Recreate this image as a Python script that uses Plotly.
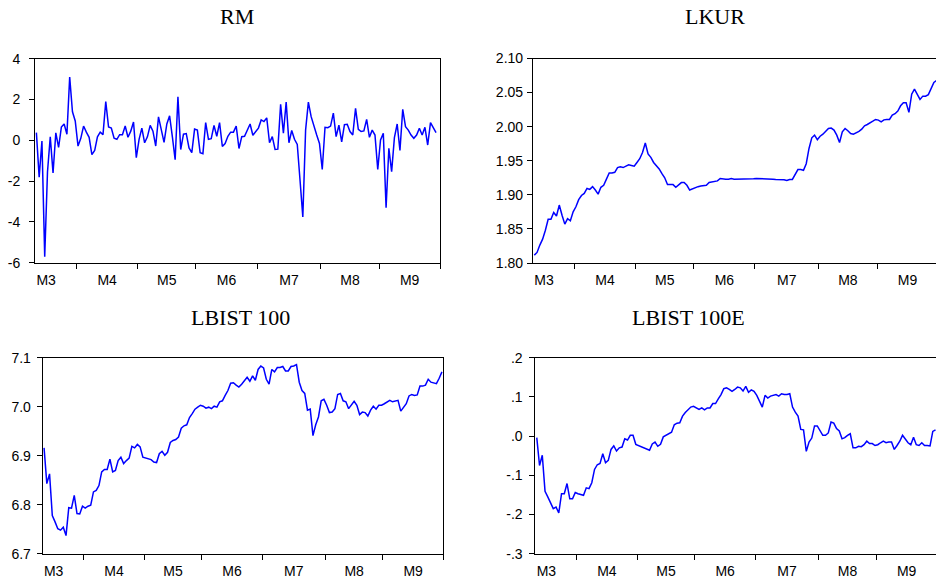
import numpy as np
import plotly.graph_objects as go

# ---------------- data ----------------
month_labels = ["M3", "M4", "M5", "M6", "M7", "M8", "M9"]
month_days_in_sample = [15, 22, 21, 22, 23, 21, 22]   # trading days observed
month_days_full = [22, 22, 21, 22, 23, 21, 22]        # trading days of the whole month

rm = [0.38, -1.8, -0.03, -5.7, -1.55, 0.17, -1.6, 0.37, -0.35, 0.65, 0.8, 0.3, 3.1, 1.4, 0.95,
      -0.28, 0.1, 0.7, 0.4, 0.15, -0.7, -0.5, 0.17, 0.4, 0.28, 1.9, 0.65, 0.6, 0.1, 0.05, 0.28,
      0.28, 0.7, 0.15, 0.45, 0.9, -0.85,
      0.05, 0.6, -0.12, 0.17, 0.73, 0.45, -0.28, 1.15, 0.57, -0.1, 0.8, 1.2, 0.17, -0.95, 2.13,
      -0.45, 0.3, 0.33, -0.37, -0.6, 0.55,
      0.5, -0.6, -0.65, 0.87, 0.05, 0.08, 0.73, 0.2, 0.87, -0.3, -0.16, 0.2, 0.4, 0.4, 0.7,
      -0.4, 0.18, 0.2, 0.5, 0.8, 0.25, 0.43,
      0.6, 1.0, 0.92, 1.1, -0.12, 0.18, -0.45, -0.43, 1.77, 0.35, 1.87, -0.12, 0.48, 0.05,
      -0.2, -1.97, -3.75, 0.5, 1.87, 1.16, 0.64, 0.26, -0.15,
      -1.43, 0.64, 0.62, 0.7, 1.33, 0.18, 0.74, -0.08, 0.77, 0.79, 0.43, 0.26, 1.57, 0.54,
      0.43, 0.46, 1.03, 0.15, 0.5, 0.26, -1.43,
      0.02, 0.34, -3.3, -0.39, -1.54, 0.13, 0.8, -0.5, 1.52, 0.67, 0.5, 0.26, 0.1, 0.26,
      0.59, 0.26, 0.64, -0.23, 0.87, 0.6, 0.38]

lkur = [1.8116, 1.8155, 1.8263, 1.835, 1.848, 1.864, 1.864, 1.874, 1.869, 1.885, 1.870, 1.857,
        1.865, 1.862, 1.875,
        1.8825, 1.893, 1.899, 1.902, 1.9094, 1.908, 1.912, 1.907, 1.901, 1.911, 1.914, 1.923,
        1.932, 1.932, 1.933, 1.940, 1.941, 1.940, 1.942, 1.944, 1.943, 1.942,
        1.9475, 1.953, 1.962, 1.976, 1.960, 1.955, 1.9475, 1.943, 1.938, 1.931, 1.925, 1.915,
        1.915, 1.915, 1.911, 1.915, 1.918, 1.918, 1.914, 1.907, 1.909,
        1.911, 1.912, 1.913, 1.913, 1.914, 1.918, 1.919, 1.920, 1.9205, 1.924, 1.923, 1.923,
        1.923, 1.924, 1.923, 1.923, 1.9226, 1.9226, 1.9226, 1.9226, 1.9226, 1.9236,
        1.924, 1.924, 1.924, 1.924, 1.924, 1.9236, 1.923, 1.9226, 1.9226, 1.9226, 1.922, 1.921,
        1.9226, 1.9226, 1.929, 1.937, 1.937, 1.936, 1.9456, 1.968, 1.9837, 1.9876, 1.981,
        1.986, 1.989, 1.9925, 1.9974, 1.998, 1.995, 1.9876, 1.9768, 1.9925, 1.9974, 1.994,
        1.990, 1.989, 1.991, 1.993, 1.9964, 2.0013, 2.0032, 2.005, 2.008, 2.0106,
        2.0096, 2.007, 2.010, 2.0106, 2.0106, 2.017, 2.019, 2.023, 2.0306, 2.035, 2.035, 2.021,
        2.0477, 2.055, 2.0477, 2.040, 2.0448, 2.0448, 2.047, 2.056, 2.0648, 2.068]

lbist100 = [6.916, 6.843, 6.863, 6.778, 6.765, 6.751, 6.748, 6.754, 6.737, 6.794, 6.793, 6.819,
            6.782, 6.781, 6.797,
            6.793, 6.797, 6.799, 6.826, 6.829, 6.839, 6.867, 6.872, 6.872, 6.893, 6.867, 6.870,
            6.890, 6.897, 6.884, 6.890, 6.895, 6.919, 6.916, 6.923, 6.918, 6.897,
            6.895, 6.894, 6.892, 6.887, 6.886, 6.904, 6.909, 6.901, 6.907, 6.927, 6.931, 6.933,
            6.938, 6.956, 6.961, 6.963, 6.978, 6.986, 6.995, 6.999, 7.003,
            7.001, 6.997, 6.999, 6.996, 7.001, 6.999, 7.010, 7.012, 7.023, 7.033, 7.048, 7.049,
            7.044, 7.040, 7.046, 7.054, 7.060, 7.052, 7.063, 7.054, 7.076, 7.083,
            7.079, 7.056, 7.046, 7.076, 7.071, 7.080, 7.080, 7.082, 7.073, 7.073, 7.082, 7.083,
            7.086, 7.050, 7.033, 7.027, 6.993, 6.995, 6.941, 6.963, 6.979, 7.012, 7.015,
            7.003, 6.988, 6.989, 6.996, 7.025, 7.027, 7.012, 7.010, 6.996, 7.003, 7.011, 7.003,
            6.984, 6.989, 6.988, 6.981, 6.993, 7.001, 6.995, 7.003, 7.003,
            7.006, 7.010, 7.013, 7.010, 7.012, 7.013, 6.991, 6.999, 7.006, 7.022, 7.025, 7.023,
            7.024, 7.042, 7.042, 7.044, 7.056, 7.050, 7.049, 7.047, 7.058, 7.071]

lbist100e = [-0.004, -0.075, -0.049, -0.141, -0.155, -0.172, -0.185, -0.181, -0.196, -0.147,
             -0.147, -0.121, -0.160, -0.160, -0.144,
             -0.147, -0.149, -0.151, -0.132, -0.134, -0.119, -0.085, -0.073, -0.070, -0.045,
             -0.068, -0.062, -0.034, -0.025, -0.038, -0.030, -0.028, -0.007, -0.010, 0.002,
             0.002, -0.021,
             -0.024, -0.026, -0.030, -0.034, -0.036, -0.020, -0.015, -0.026, -0.021, -0.002,
             0.002, 0.006, 0.010, 0.029, 0.033, 0.034, 0.051, 0.060, 0.068, 0.074, 0.076,
             0.072, 0.068, 0.072, 0.067, 0.072, 0.072, 0.083, 0.083, 0.095, 0.106, 0.121, 0.123,
             0.119, 0.114, 0.119, 0.125, 0.123, 0.115, 0.127, 0.112, 0.118, 0.114,
             0.104, 0.089, 0.074, 0.104, 0.097, 0.102, 0.104, 0.106, 0.102, 0.108, 0.106, 0.106,
             0.108, 0.074, 0.061, 0.051, 0.017, 0.016, -0.039, -0.015, -0.005, 0.026, 0.026,
             0.013, 0.002, 0.002, 0.008, 0.036, 0.033, 0.019, 0.013, -0.007, -0.004, 0.002,
             0.006, -0.030, -0.030, -0.026, -0.027, -0.022, -0.013, -0.019, -0.019, -0.024,
             -0.022, -0.017, -0.013, -0.017, -0.015, -0.015, -0.034, -0.024, -0.013, 0.002,
             -0.008, -0.017, -0.022, -0.003, -0.022, -0.024, -0.017, -0.024, -0.024, -0.025,
             0.012, 0.016]

y_ticks = {
    "RM": ([-6, -4, -2, 0, 2, 4], ["-6", "-4", "-2", "0", "2", "4"]),
    "LKUR": ([1.80, 1.85, 1.90, 1.95, 2.00, 2.05, 2.10],
             ["1.80", "1.85", "1.90", "1.95", "2.00", "2.05", "2.10"]),
    "LBIST 100": ([6.7, 6.8, 6.9, 7.0, 7.1], ["6.7", "6.8", "6.9", "7.0", "7.1"]),
    "LBIST 100E": ([-0.3, -0.2, -0.1, 0.0, 0.1, 0.2], ["-.3", "-.2", "-.1", ".0", ".1", ".2"]),
}

# ---------------- geometry ----------------
W, H = 936, 579
bounds = list(np.cumsum(month_days_in_sample) - 0.5)
centers = [b - f / 2 for b, f in zip(bounds, month_days_full)]

def dx(a, b):
    return [a / W, min(b / W, 1.0)]

def dy(top, bottom):
    return [1 - bottom / H, 1 - top / H]

panels = [
    dict(title="RM", y=rm, xd=(35, 440.2), yd=(58.7, 262.8), xend=145.5, right=True, so=6,
         tc=237, ty=16.5),
    dict(title="LKUR", y=lkur, xd=(532.9, 936), yd=(58.5, 263.0),
         xend=-0.5 + (936 - 532.9) / 2.775, right=False, so=1, tc=715, ty=16.5),
    dict(title="LBIST 100", y=lbist100, xd=(42.7, 443.3), yd=(357.7, 553.7), xend=145.5,
         right=True, so=3, tc=241, ty=317.5),
    dict(title="LBIST 100E", y=lbist100e, xd=(535.4, 936), yd=(357.7, 553.7),
         xend=-0.5 + (936 - 535.4) / 2.75, right=False, so=4, tc=688, ty=317.5),
]

fig = go.Figure()
tick_font = dict(family="Liberation Sans, Arial, sans-serif", size=14, color="black")
title_font = dict(family="Liberation Serif, Times New Roman, serif", size=22, color="black")

layout = dict(template="none", width=W, height=H, autosize=False,
              margin=dict(l=0, r=0, t=0, b=0, pad=0, autoexpand=False),
              paper_bgcolor="white", plot_bgcolor="white", showlegend=False, annotations=[])

for k, p in enumerate(panels, start=1):
    xs = list(range(len(p["y"])))
    fig.add_trace(go.Scatter(x=xs, y=p["y"], mode="lines",
                             line=dict(color="#0000FF", width=1.5),
                             xaxis=f"x{k}", yaxis=f"y{k}", hoverinfo="skip"))
    tv, tt = y_ticks[p["title"]]
    layout[f"xaxis{k}"] = dict(
        domain=dx(*p["xd"]), range=[-0.5, p["xend"]], anchor=f"y{k}", automargin=False,
        showgrid=False, zeroline=False, showline=True, linecolor="black", linewidth=1,
        mirror=True, tickmode="array", tickvals=centers, ticktext=month_labels,
        ticks="outside", ticklen=4, tickcolor="rgba(0,0,0,0)", tickfont=tick_font,
        minor=dict(tickmode="array", tickvals=bounds, ticks="outside", ticklen=5,
                   tickcolor="black", tickwidth=1, showgrid=False),
        fixedrange=True)
    layout[f"yaxis{k}"] = dict(
        domain=dy(*p["yd"]), range=[tv[0], tv[-1]], anchor=f"x{k}", automargin=False,
        showgrid=False, zeroline=False, showline=True, linecolor="black", linewidth=1,
        mirror=p["right"], tickmode="array", tickvals=tv, ticktext=tt,
        ticks="outside", ticklen=5, tickcolor="black", tickwidth=1, tickfont=tick_font,
        ticklabelstandoff=p["so"], fixedrange=True)
    layout["annotations"].append(dict(
        text=p["title"], xref="paper", yref="paper", x=p["tc"] / W, y=1 - p["ty"] / H,
        xanchor="center", yanchor="middle", showarrow=False, font=title_font))

fig.update_layout(**layout)
fig.write_html("out.html", config={"displayModeBar": False},
               post_script="document.body.style.margin='0px';"
                           "document.documentElement.style.overflow='hidden';")
